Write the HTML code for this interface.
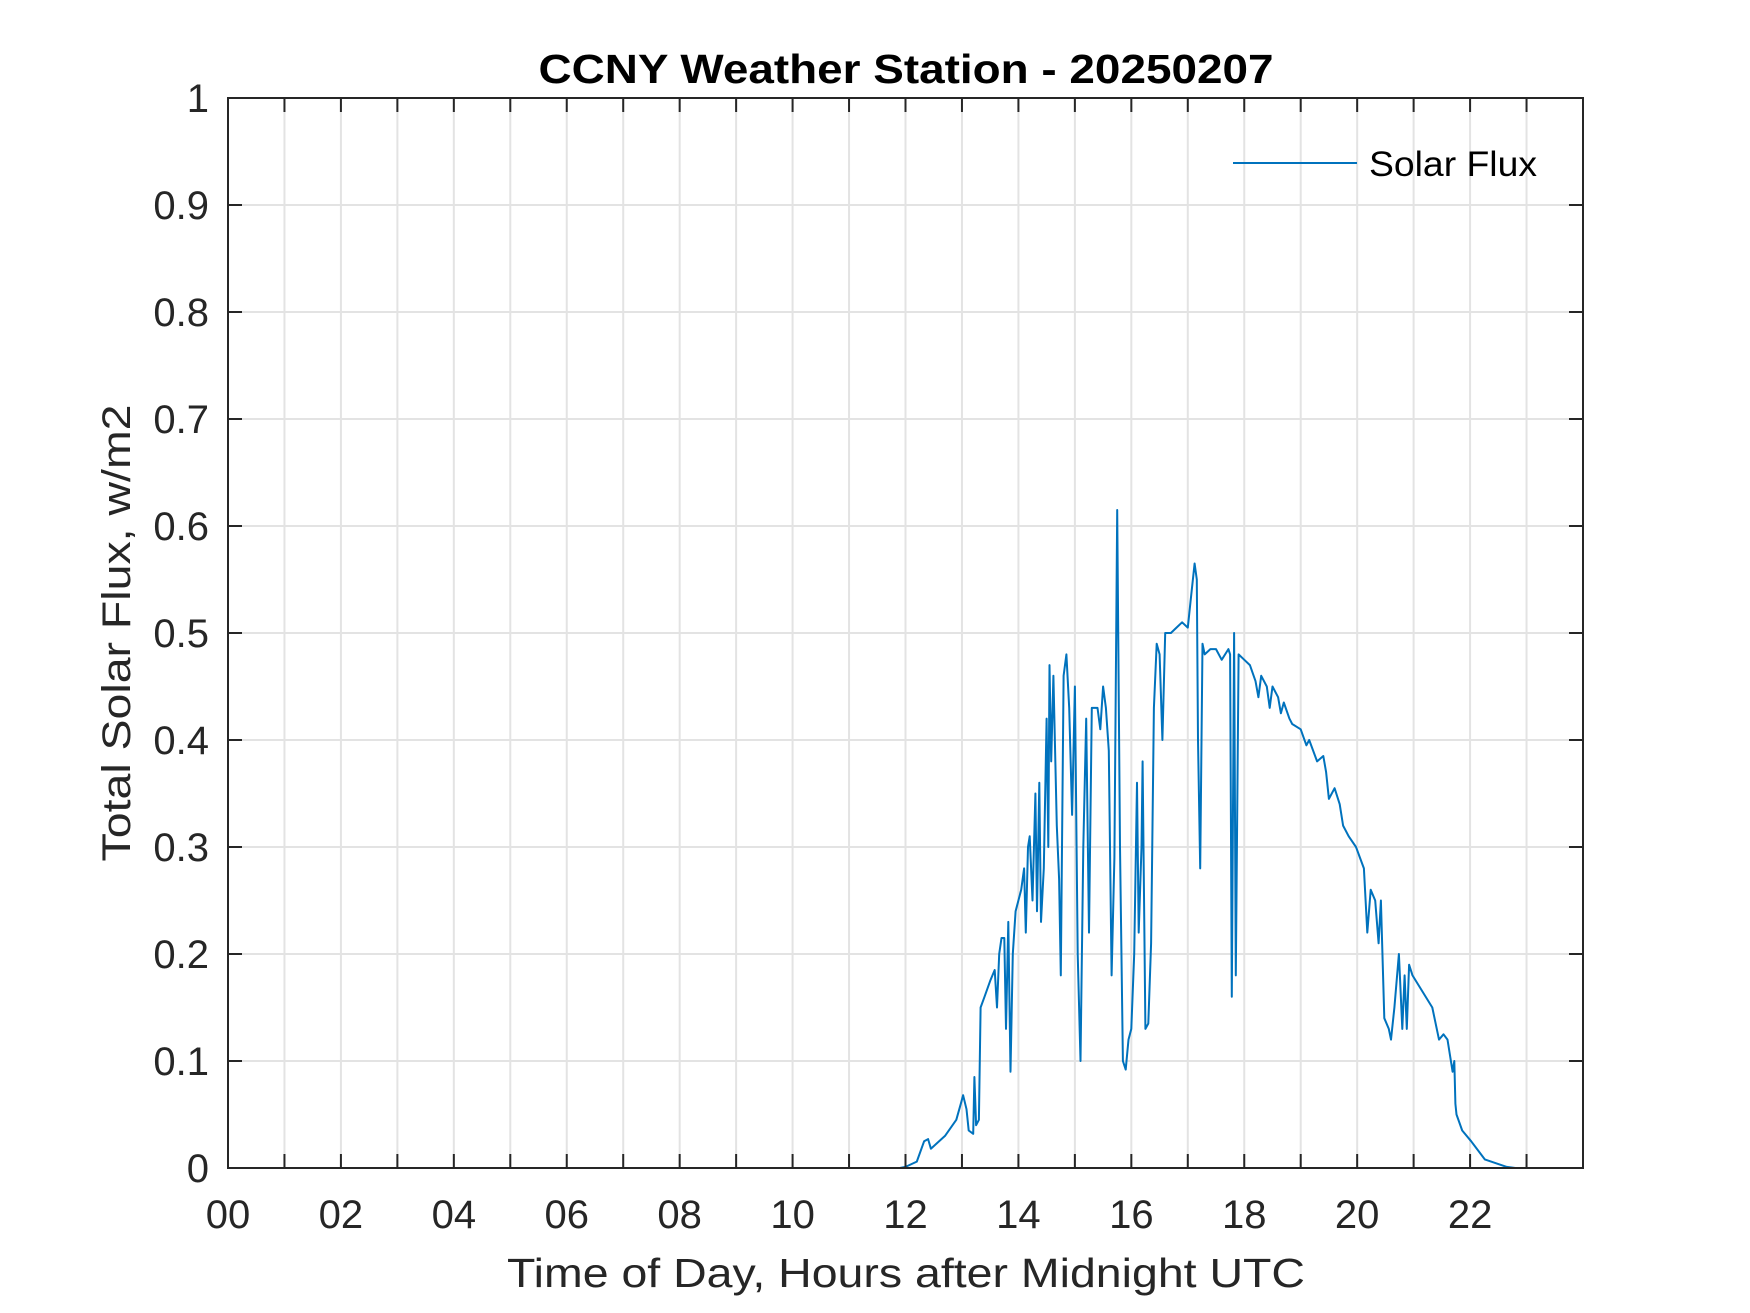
<!DOCTYPE html>
<html><head><meta charset="utf-8"><style>
html,body{margin:0;padding:0;background:#fff;}
svg{display:block;font-family:"Liberation Sans",Arial,sans-serif;}
</style></head><body>
<svg id="chart" width="1750" height="1313" viewBox="0 0 1750 1313" xmlns="http://www.w3.org/2000/svg">
<rect width="1750" height="1313" fill="#fff"/>
<g id="grid"></g>
<g id="series"></g>
<rect x="228" y="98" width="1355" height="1070" fill="none" stroke="#262626" stroke-width="2"/>
<g id="ticks"></g>
<text x="906" y="83" text-anchor="middle" font-size="41" font-weight="bold" fill="#000" textLength="735" lengthAdjust="spacingAndGlyphs">CCNY Weather Station - 20250207</text>
<text x="906" y="1287" text-anchor="middle" font-size="41" fill="#262626" textLength="798" lengthAdjust="spacingAndGlyphs">Time of Day, Hours after Midnight UTC</text>
<text transform="translate(130,633) rotate(-90)" text-anchor="middle" font-size="40" fill="#262626" textLength="457" lengthAdjust="spacingAndGlyphs">Total Solar Flux, w/m2</text>
<g>
<line x1="1233" y1="163" x2="1357" y2="163" stroke="#0072bd" stroke-width="2"/>
<text x="1369" y="176" font-size="35" fill="#000" textLength="168" lengthAdjust="spacingAndGlyphs">Solar Flux</text>
</g>
</svg>
<script>
const hours = [0,11.9,12.0,12.2,12.33,12.4,12.45,12.7,12.9,12.98,
13.02,13.08,13.12,13.2,13.22,13.25,13.3,13.33,13.4,13.5,
13.58,13.62,13.66,13.7,13.75,13.78,13.82,13.86,13.9,13.95,
14.05,14.1,14.13,14.17,14.2,14.25,14.3,14.33,14.37,14.4,
14.45,14.5,14.53,14.55,14.58,14.62,14.68,14.72,14.75,14.8,
14.85,14.9,14.95,15.0,15.05,15.1,15.15,15.2,15.25,15.3,
15.4,15.45,15.5,15.55,15.6,15.65,15.7,15.75,15.8,15.85,
15.9,15.95,16.0,16.05,16.1,16.13,16.18,16.2,16.25,16.3,
16.35,16.4,16.45,16.5,16.55,16.6,16.7,16.8,16.9,17.0,
17.05,17.12,17.16,17.18,17.22,17.26,17.3,17.4,17.5,17.6,
17.72,17.75,17.78,17.82,17.85,17.9,18.0,18.1,18.2,18.25,
18.3,18.4,18.45,18.5,18.6,18.65,18.7,18.8,18.85,19.0,
19.1,19.15,19.29,19.4,19.45,19.5,19.6,19.69,19.75,19.85,
19.98,20.12,20.18,20.24,20.32,20.38,20.42,20.48,20.56,20.6,
20.66,20.74,20.8,20.84,20.88,20.92,20.98,21.33,21.45,21.53,
21.6,21.69,21.72,21.74,21.76,21.86,22.02,22.26,22.65,22.8,
24];
const flux = [0,0,0.001,0.006,0.025,0.027,0.018,0.03,0.045,0.06,
0.068,0.055,0.035,0.032,0.085,0.04,0.045,0.15,0.16,0.175,
0.185,0.15,0.2,0.215,0.215,0.13,0.23,0.09,0.2,0.24,
0.26,0.28,0.22,0.3,0.31,0.25,0.35,0.24,0.36,0.23,
0.28,0.42,0.3,0.47,0.38,0.46,0.32,0.27,0.18,0.46,
0.48,0.43,0.33,0.45,0.2,0.10,0.3,0.42,0.22,0.43,
0.43,0.41,0.45,0.43,0.39,0.18,0.29,0.615,0.3,0.1,
0.092,0.12,0.13,0.2,0.36,0.22,0.3,0.38,0.13,0.135,
0.21,0.43,0.49,0.48,0.4,0.5,0.5,0.505,0.51,0.505,
0.53,0.565,0.55,0.4,0.28,0.49,0.48,0.485,0.485,0.475,
0.485,0.48,0.16,0.5,0.18,0.48,0.475,0.47,0.455,0.44,
0.46,0.45,0.43,0.45,0.44,0.425,0.435,0.42,0.415,0.41,
0.395,0.4,0.38,0.385,0.37,0.345,0.355,0.34,0.32,0.31,
0.3,0.28,0.22,0.26,0.25,0.21,0.25,0.14,0.13,0.12,
0.15,0.2,0.13,0.18,0.13,0.19,0.18,0.15,0.12,0.125,
0.12,0.09,0.1,0.06,0.05,0.035,0.025,0.008,0.001,0,
0];
const xTickLabels = ["00","02","04","06","08","10","12","14","16","18","20","22"];
const yTickLabels = ["0","0.1","0.2","0.3","0.4","0.5","0.6","0.7","0.8","0.9","1"];

const L=228,R=1583,T=98,B=1168;
const xs = h => L + (h/24)*(R-L);
const ys = v => B - v*(B-T);
const NS="http://www.w3.org/2000/svg";
const grid=document.getElementById('grid'), ticks=document.getElementById('ticks'), series=document.getElementById('series');
function mk(tag, attrs, parent){const e=document.createElementNS(NS,tag);for(const k in attrs)e.setAttribute(k,attrs[k]);parent.appendChild(e);return e;}
for(let h=1;h<24;h++){
  const x=xs(h);
  const g=mk('line',{x1:x,y1:T,x2:x,y2:B,stroke:'#e3e3e3','stroke-width':2},grid);
  
  
  const t1=mk('line',{x1:x,y1:B,x2:x,y2:B-14,stroke:'#262626','stroke-width':2},ticks);
  
  
  const t2=mk('line',{x1:x,y1:T,x2:x,y2:T+14,stroke:'#262626','stroke-width':2},ticks);
  
  
}
xTickLabels.forEach((lab,i)=>{
  const t=mk('text',{x:xs(i*2),y:1228,'text-anchor':'middle','font-size':40,fill:'#262626'},ticks);
  t.textContent=lab;
  
  
});
yTickLabels.forEach((lab,i)=>{
  const v=i/10, y=ys(v);
  if(i>0&&i<10){
    const g=mk('line',{x1:L,y1:y,x2:R,y2:y,stroke:'#e3e3e3','stroke-width':2},grid);
    
    
    const t1=mk('line',{x1:L,y1:y,x2:L+14,y2:y,stroke:'#262626','stroke-width':2},ticks);
    
    
    const t2=mk('line',{x1:R,y1:y,x2:R-14,y2:y,stroke:'#262626','stroke-width':2},ticks);
    
    
  }
  const t=mk('text',{x:209,y:y+14,'text-anchor':'end','font-size':40,fill:'#262626'},ticks);
  t.textContent=lab;
  
  
});
const pts=hours.map((h,i)=>xs(h).toFixed(1)+','+ys(flux[i]).toFixed(1)).join(' ');
const pl=mk('polyline',{points:pts,fill:'none',stroke:'#0072bd','stroke-width':2,'stroke-linejoin':'round'},series);


</script>
</body></html>
